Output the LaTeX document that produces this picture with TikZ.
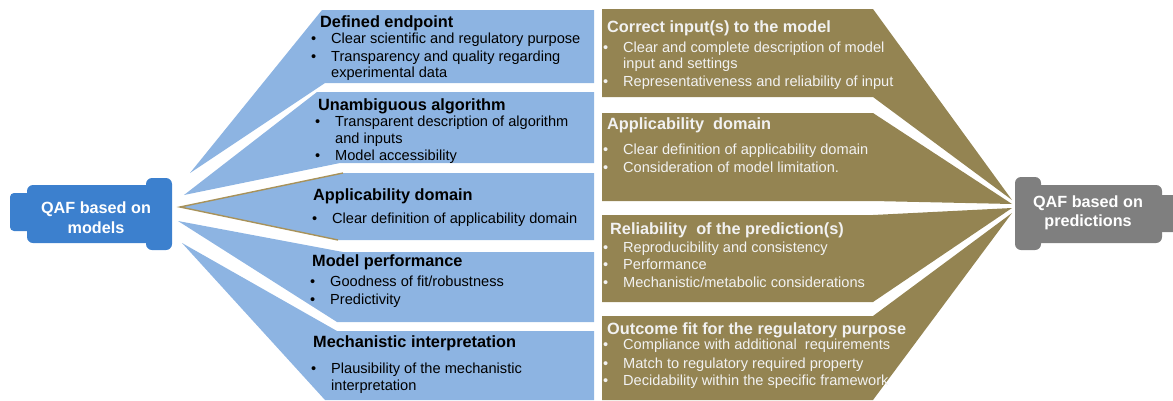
\documentclass[tikz,border=0pt]{standalone}
\usepackage{fontspec}
\setmainfont{Liberation Sans}
\usetikzlibrary{positioning}

\definecolor{modelblue}{HTML}{3C80CE}
\definecolor{panelblue}{HTML}{8DB4E2}
\definecolor{paneltan}{HTML}{948452}
\definecolor{edgegold}{HTML}{A8925A}
\definecolor{predgray}{HTML}{7F7F7F}

% bullet with a fixed hanging gap
\newcommand{\bul}{\makebox[20pt][l]{\textbullet}}

\begin{document}
\begin{tikzpicture}[
  x=1pt, y=-1pt,
  head/.style={anchor=base west, inner sep=0pt,
    font=\fontsize{16.3}{19}\selectfont\bfseries},
  item/.style={anchor=base west, inner sep=0pt,
    font=\fontsize{14.6}{17}\selectfont},
  light/.style={text=white!95!black},
  qaf/.style={align=center, inner sep=0pt, text=white,
    font=\fontsize{16.2}{19.5}\selectfont\bfseries}
]
  \useasboundingbox (0,0) rectangle (1173,400);

  % blue fan: criteria for the model
  \fill[panelblue] (322,10) -- (594,10) -- (594,83) -- (325,83) -- (190,173) -- cycle;
  \fill[panelblue] (317,92) -- (594,92) -- (594,163) -- (340,163) -- (184,195) -- cycle;
  \fill[panelblue] (343,173) -- (594,173) -- (594,240) -- (338,240) -- (180,207) -- cycle;
  \draw[edgegold, line width=1.4pt] (343,173) -- (180,207) -- (338,240);
  \fill[panelblue] (343,252) -- (594,252) -- (594,322) -- (337,322) -- (178,221) -- cycle;
  \fill[panelblue] (337,331) -- (594,331) -- (594,400) -- (325,400) -- (182,243) -- cycle;

  % tan fan: criteria for the prediction
  \fill[paneltan] (602,9) -- (873,9) -- (1012,200) -- (873,97) -- (602,97) -- cycle;
  \fill[paneltan] (602,113) -- (873,113) -- (1012,204) -- (873,201) -- (602,201) -- cycle;
  \fill[paneltan] (602,215) -- (873,215) -- (1012,208) -- (873,302) -- (602,302) -- cycle;
  \fill[paneltan] (602,316) -- (873,316) -- (1012,213) -- (873,400) -- (602,400) -- cycle;

  % plug shaped end boxes
  \fill[modelblue, rounded corners=4pt] (10,193) rectangle (34,231);
  \fill[modelblue, rounded corners=6pt] (27,185) rectangle (152,243);
  \fill[modelblue, rounded corners=6pt] (146,178) rectangle (172,250);
  \fill[predgray, rounded corners=6pt] (1015,177) rectangle (1041,250);
  \fill[predgray, rounded corners=6pt] (1035,185) rectangle (1162,243);
  \fill[predgray, rounded corners=4pt] (1156,195) rectangle (1180,232);

  \node[qaf] (models) at (96,217.5) {QAF based on\\models};
  \node[qaf] (preds) at (1088,213) {QAF based on\\predictions};

  % left column texts
  \node[head] (endpoint) at (320,27) {Defined endpoint};
  \node[item] (endpoint-1) at (311,43) {\bul Clear scientific and regulatory purpose};
  \node[item] (endpoint-2) at (311,61) {\bul Transparency and quality regarding};
  \node[item] (endpoint-3) at (331,77) {experimental data};

  \node[head] (algo) at (318,110) {Unambiguous algorithm};
  \node[item] (algo-1) at (315,126) {\bul Transparent description of algorithm};
  \node[item] (algo-2) at (335,143) {and inputs};
  \node[item] (algo-3) at (315,160) {\bul Model accessibility};

  \node[head] (domain) at (313,200) {Applicability domain};
  \node[item] (domain-1) at (312,223) {\bul Clear definition of applicability domain};

  \node[head] (perf) at (312,266) {Model performance};
  \node[item] (perf-1) at (310,286) {\bul Goodness of fit/robustness};
  \node[item] (perf-2) at (310,304) {\bul Predictivity};

  \node[head] (mech) at (313,347) {Mechanistic interpretation};
  \node[item] (mech-1) at (311,373) {\bul Plausibility of the mechanistic};
  \node[item] (mech-2) at (331,390) {interpretation};

  % right column texts
  \node[head, light] (inputs) at (607,32) {Correct input(s) to the model};
  \node[item, light] (inputs-1) at (603,52) {\bul Clear and complete description of model};
  \node[item, light] (inputs-2) at (623,68) {input and settings};
  \node[item, light] (inputs-3) at (603,86) {\bul Representativeness and reliability of input};

  \node[head, light] (appl) at (607,129) {Applicability\ \ domain};
  \node[item, light] (appl-1) at (603,154) {\bul Clear definition of applicability domain};
  \node[item, light] (appl-2) at (603,172) {\bul Consideration of model limitation.};

  \node[head, light] (reliab) at (610,234) {Reliability\ \ of the prediction(s)};
  \node[item, light] (reliab-1) at (603,252) {\bul Reproducibility and consistency};
  \node[item, light] (reliab-2) at (603,269) {\bul Performance};
  \node[item, light] (reliab-3) at (603,287) {\bul Mechanistic/metabolic considerations};

  \node[head, light] (outcome) at (607,334) {Outcome fit for the regulatory purpose};
  \node[item, light] (outcome-1) at (603,349) {\bul Compliance with additional\ \ requirements};
  \node[item, light] (outcome-2) at (603,368) {\bul Match to regulatory required property};
  \node[item, light] (outcome-3) at (603,385) {\bul Decidability within the specific framework};
\end{tikzpicture}
\end{document}
